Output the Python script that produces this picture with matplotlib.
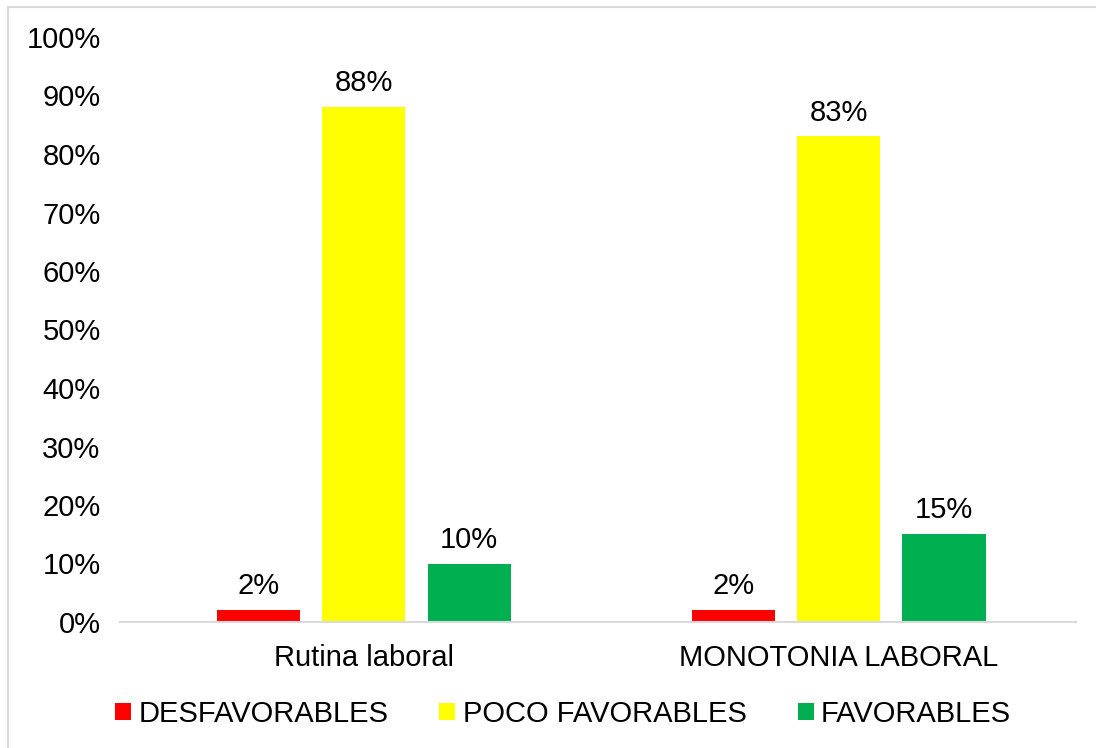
import numpy as np
import matplotlib.pyplot as plt
from matplotlib.patches import Rectangle

plt.rcParams['font.family'] = ['Liberation Sans', 'DejaVu Sans']

categorias = ["Rutina laboral", "MONOTONIA LABORAL"]
series = ["DESFAVORABLES", "POCO FAVORABLES", "FAVORABLES"]
valores = [
    [2, 2],     # DESFAVORABLES
    [88, 83],   # POCO FAVORABLES
    [10, 15],   # FAVORABLES
]
colores = ["#ff0000", "#ffff00", "#00b050"]

fig = plt.figure(figsize=(10.96, 7.48), dpi=100)
ax = fig.add_axes([120 / 1096, 1 - 622 / 748, 956 / 1096, 585 / 748])

# marco gris alrededor del gráfico (borde derecho e inferior fuera de la imagen)
fig.patches.append(Rectangle((8 / 1096, -0.05), 1.1, 1 - 7 / 748 + 0.05,
                             transform=fig.transFigure, fill=False,
                             edgecolor="#d9d9d9", linewidth=1.5))

x = np.arange(len(categorias))
ancho = 0.175
desplaz = 0.222
for i, (serie, vals, col) in enumerate(zip(series, valores, colores)):
    pos = x + (i - 1) * desplaz
    barras = ax.bar(pos, vals, ancho, color=col, label=serie, zorder=2)
    for b, v in zip(barras, vals):
        ax.text(b.get_x() + b.get_width() / 2, v + 1.7, f"{v}%",
                ha="center", va="bottom", fontsize=21)

ax.set_xlim(-0.513, 1.5)
ax.set_ylim(0, 100)
ax.set_yticks(np.arange(0, 101, 10))
ax.set_yticklabels([f"{t}%" for t in range(0, 101, 10)], fontsize=21)
ax.set_xticks(x)
ax.set_xticklabels(categorias, fontsize=21)
ax.tick_params(length=0)
ax.tick_params(axis="y", pad=14)
ax.tick_params(axis="x", pad=16)
for s in ["top", "right", "left"]:
    ax.spines[s].set_visible(False)
ax.spines["bottom"].set_color("#d9d9d9")
ax.spines["bottom"].set_linewidth(1.5)

fig.legend(loc="center", bbox_to_anchor=(563 / 1096, 1 - 714 / 748), ncol=3,
           frameon=False, fontsize=21, handlelength=0.55, handleheight=0.55,
           handletextpad=0.25, columnspacing=1.75)

fig.savefig("out.png", dpi=100)
